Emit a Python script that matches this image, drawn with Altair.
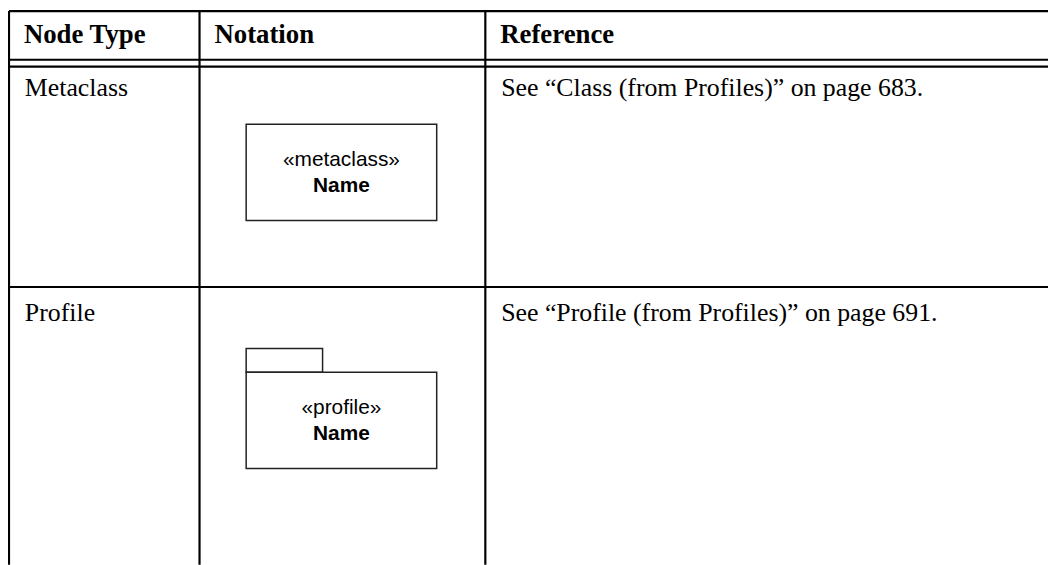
import altair as alt
import pandas as pd

# ---- table content ----
headers = ["Node Type", "Notation", "Reference"]
node_types = ["Metaclass", "Profile"]
stereotypes = ["«metaclass»", "«profile»"]
element_names = ["Name", "Name"]
references = [
    "See “Class (from Profiles)” on page 683.",
    "See “Profile (from Profiles)” on page 691.",
]
has_tab = [False, True]

# ---- layout (pixels in chart space) ----
W, H = 1048, 557
col_edges = [1, 193, 481]
top_rule = 1
header_rules = [50, 57]
row_rules = [279]
header_baseline = 33
row_baselines = [87, 313]
text_pad = 16
box_left_off, box_w, box_h = 47, 192, 97
box_tops = [115, 365]
tab_w, tab_h = 77, 24

xs = alt.Scale(domain=[0, W], range=[0, W])
ys = alt.Scale(domain=[0, H], range=[0, H])

# grid lines
grid = []
for y in [top_rule] + header_rules + row_rules:
    grid.append(dict(x=col_edges[0], x2=W + 2, y=y, y2=y))
for c in col_edges:
    grid.append(dict(x=c, x2=c, y=top_rule, y2=H + 2))
grid_df = pd.DataFrame(grid)

rules = alt.Chart(grid_df).mark_rule(color="black", strokeWidth=2.2).encode(
    x=alt.X("x:Q", scale=xs, axis=None),
    x2="x2:Q",
    y=alt.Y("y:Q", scale=ys, axis=None),
    y2="y2:Q",
)

# notation boxes
boxes = []
for i, top in enumerate(box_tops):
    left = col_edges[1] + box_left_off
    if has_tab[i]:
        boxes.append(dict(x=left, x2=left + tab_w, y=top - tab_h, y2=top))
    boxes.append(dict(x=left, x2=left + box_w, y=top, y2=top + box_h))
box_df = pd.DataFrame(boxes)

box_marks = alt.Chart(box_df).mark_rect(
    fill="white", stroke="#222222", strokeWidth=1.5
).encode(
    x=alt.X("x:Q", scale=xs, axis=None),
    x2="x2:Q",
    y=alt.Y("y:Q", scale=ys, axis=None),
    y2="y2:Q",
)

# header text
hdr_df = pd.DataFrame(
    dict(x=[c + text_pad - 1 for c in col_edges], y=[header_baseline] * 3, t=headers)
)
hdr = alt.Chart(hdr_df).mark_text(
    align="left", baseline="alphabetic", font="Liberation Serif",
    fontSize=27, fontWeight="bold", color="black"
).encode(
    x=alt.X("x:Q", scale=xs, axis=None),
    y=alt.Y("y:Q", scale=ys, axis=None),
    text="t:N",
)

# body text
body_rows = []
for i in range(len(node_types)):
    body_rows.append(dict(x=col_edges[0] + text_pad, y=row_baselines[i], t=node_types[i]))
    body_rows.append(dict(x=col_edges[2] + text_pad, y=row_baselines[i], t=references[i]))
body_df = pd.DataFrame(body_rows)
body = alt.Chart(body_df).mark_text(
    align="left", baseline="alphabetic", font="Liberation Serif",
    fontSize=26, color="black"
).encode(
    x=alt.X("x:Q", scale=xs, axis=None),
    y=alt.Y("y:Q", scale=ys, axis=None),
    text="t:N",
)

# notation texts
cx = col_edges[1] + box_left_off + box_w / 2
st_df = pd.DataFrame(dict(x=[cx] * 2, y=[t + 42 for t in box_tops], t=stereotypes))
nm_df = pd.DataFrame(dict(x=[cx] * 2, y=[t + 68 for t in box_tops], t=element_names))
st = alt.Chart(st_df).mark_text(
    align="center", baseline="alphabetic", font="Liberation Sans",
    fontSize=21, color="black"
).encode(
    x=alt.X("x:Q", scale=xs, axis=None),
    y=alt.Y("y:Q", scale=ys, axis=None),
    text="t:N",
)
nm = alt.Chart(nm_df).mark_text(
    align="center", baseline="alphabetic", font="Liberation Sans",
    fontSize=21, fontWeight="bold", color="black"
).encode(
    x=alt.X("x:Q", scale=xs, axis=None),
    y=alt.Y("y:Q", scale=ys, axis=None),
    text="t:N",
)

chart = alt.layer(rules, box_marks, hdr, body, st, nm).properties(
    width=W, height=H, padding=0, background="white",
    autosize=alt.AutoSizeParams(type="none"),
).configure_view(stroke=None)

chart.save("out.html", embed_options={"renderer": "svg", "actions": False})
